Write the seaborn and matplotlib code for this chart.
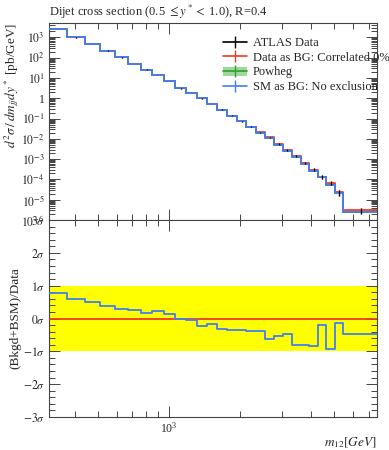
import numpy as np
import pandas as pd
import matplotlib
matplotlib.use("Agg")
import matplotlib.pyplot as plt
import matplotlib.ticker as mticker
from matplotlib.lines import Line2D
from matplotlib.patches import Patch
import seaborn as sns

# dijet mass bin edges [GeV]
edges = [310, 370, 440, 510, 590, 670, 760, 850, 950, 1060, 1180, 1310, 1450,
         1600, 1760, 1940, 2120, 2330, 2550, 2780, 3040, 3310, 3610, 3930,
         4270, 4640, 5040, 5470, 7600]

# ATLAS data, d2sigma/dm dy* [pb/GeV]
data_xs = [2600, 1000, 490, 225, 105, 51, 26, 14, 7.1, 3.1, 1.86, 1.0, 0.52,
           0.28, 0.137, 0.075, 0.040, 0.021, 0.012, 0.0055, 0.0028, 0.0014,
           6.6e-4, 3.1e-4, 1.35e-4, 6.8e-5, 2.3e-5, 3.0e-6]
data_relerr = [0.02, 0.02, 0.02, 0.02, 0.02, 0.02, 0.02, 0.025, 0.025, 0.03,
               0.03, 0.035, 0.04, 0.045, 0.05, 0.055, 0.06, 0.07, 0.08, 0.09,
               0.10, 0.12, 0.15, 0.18, 0.20, 0.25, 0.30, 0.35]

# SM (Powheg) as background
sm_xs = [2640, 1011, 495, 227, 106, 51.4, 26.1, 14.1, 7.12, 3.1, 1.86, 0.99,
         0.516, 0.276, 0.135, 0.0738, 0.039, 0.0204, 0.0114, 0.00524, 0.00267,
         0.00127, 5.8e-4, 2.6e-4, 1.3e-4, 5.2e-5, 2.2e-5, 2.5e-6]
powheg_relerr = 0.03

# (Bkgd+BSM)/Data deviation in units of sigma
sigma_dev = [0.79, 0.58, 0.49, 0.39, 0.28, 0.27, 0.17, 0.22, 0.14, -0.02,
             -0.04, -0.24, -0.18, -0.32, -0.35, -0.35, -0.39, -0.39, -0.63,
             -0.52, -0.46, -0.80, -0.82, -0.85, -0.19, -0.92, -0.14, -0.46]

c_data = "black"
c_red = "#ee3b24"
c_green = "#2ca02c"
c_band = "#9fd89f"
c_blue = "#3f7ff5"

sns.set_theme(style="ticks")
plt.rcParams["font.family"] = ["Liberation Serif", "DejaVu Serif"]
plt.rcParams["mathtext.fontset"] = "stix"
plt.rcParams["axes.edgecolor"] = "#444444"
plt.rcParams["axes.linewidth"] = 0.8


def step_df(vals):
    return pd.DataFrame({"m": edges, "v": list(vals) + [vals[-1]]})


def draw_steps(ax, vals, color, lw=1.3, z=3):
    sns.lineplot(data=step_df(vals), x="m", y="v", drawstyle="steps-post",
                 color=color, lw=lw, ax=ax, zorder=z, estimator=None,
                 sort=False, legend=False)


lo = np.array(edges[:-1], dtype=float)
hi = np.array(edges[1:], dtype=float)
centers = 0.5 * (lo + hi)
data_arr = np.array(data_xs)
data_err = data_arr * np.array(data_relerr)

fig = plt.figure(figsize=(3.89, 4.5), dpi=100)
ax1 = fig.add_axes([0.126, 0.511, 0.843, 0.438])
ax2 = fig.add_axes([0.126, 0.0733, 0.843, 0.4377])

# ---- main panel
ax1.set_xscale("log")
ax1.set_yscale("log")
sm_arr = np.array(sm_xs)
band_lo = list(sm_arr * (1 - powheg_relerr)) + [sm_arr[-1] * (1 - powheg_relerr)]
band_hi = list(sm_arr * (1 + powheg_relerr)) + [sm_arr[-1] * (1 + powheg_relerr)]
ax1.fill_between(edges, band_lo, band_hi, step="post", color=c_band, lw=0, zorder=1)
draw_steps(ax1, sm_xs, c_green, z=2)
ax1.errorbar(centers, data_xs, yerr=data_err, fmt="none", ecolor=c_red,
             elinewidth=1.0, zorder=2)
draw_steps(ax1, data_xs, c_red, z=3)
draw_steps(ax1, sm_xs, c_blue, z=4)
ax1.errorbar(centers, data_xs, yerr=data_err, fmt="none", ecolor=c_data,
             elinewidth=0.9, zorder=5)

ax1.set_xlim(edges[0], edges[-1])
ax1.set_ylim(1e-6, 5.2e3)
ytk = [1e3, 1e2, 1e1, 1, 1e-1, 1e-2, 1e-3, 1e-4, 1e-5, 1e-6]
ylab = ["$10^{3}$", "$10^{2}$", "$10^{1}$", "1", "$10^{-1}$", "$10^{-2}$",
        "$10^{-3}$", "$10^{-4}$", "$10^{-5}$", "$10^{-6}$"]
ax1.set_yticks(ytk, ylab)
ax1.yaxis.set_minor_locator(mticker.LogLocator(base=10, subs=np.arange(2, 10), numticks=20))
ax1.yaxis.set_minor_formatter(mticker.NullFormatter())
ax1.set_xlabel("")
ax1.set_ylabel(r"$d^2\sigma\,/\,dm_{jj}dy^*$ [pb/GeV]", loc="top", fontsize=9.5)
ax1.set_title(r"Dijet cross section (0.5 $\leq y^* <$ 1.0), R=0.4", loc="left",
              fontsize=9, pad=5)

# ---- ratio panel
ax2.set_xscale("log")
ax2.axhspan(-1, 1, color="#ffff00", lw=0, zorder=0)
ax2.axhline(0, color=c_red, lw=1.3, zorder=3)
draw_steps(ax2, sigma_dev, c_blue, z=4)
ax2.set_xlim(edges[0], edges[-1])
ax2.set_ylim(-3, 3)
sig_ticks = [3, 2, 1, 0, -1, -2, -3]
ax2.set_yticks(sig_ticks, [f"${t}\\sigma$" for t in sig_ticks])
ax2.yaxis.set_minor_locator(mticker.MultipleLocator(0.2))
ax2.set_ylabel("(Bkgd+BSM)/Data", fontsize=9.5)
ax2.set_xlabel(r"$m_{12}[GeV]$", loc="right", fontsize=9.5)
ax2.xaxis.set_label_coords(1.0, -0.095)

minor_x = [400, 500, 600, 700, 800, 900, 2000, 3000, 4000, 5000, 6000, 7000]
for ax in (ax1, ax2):
    ax.set_xticks([1000])
    ax.set_xticks(minor_x, minor=True)
    ax.xaxis.set_minor_formatter(mticker.NullFormatter())
    ax.tick_params(which="both", direction="in", top=True, right=True,
                   color="#444444", width=0.7, labelsize=8.5, pad=3)
    ax.tick_params(which="major", length=8)
    ax.tick_params(which="minor", length=4)
    ax.yaxis.set_label_coords(-0.085, 1.0 if ax is ax1 else 0.5)
ax1.tick_params(axis="x", labelbottom=False)

handles = [
    Line2D([0], [0], color=c_data, lw=1.2, marker="|", markersize=9, markeredgewidth=1.0),
    Line2D([0], [0], color=c_red, lw=1.2, marker="|", markersize=9, markeredgewidth=1.0),
    (Patch(color=c_band, lw=0),
     Line2D([0], [0], color=c_green, lw=1.2, marker="|", markersize=9, markeredgewidth=1.0)),
    Line2D([0], [0], color=c_blue, lw=1.2, marker="|", markersize=9, markeredgewidth=1.0),
]
labels = ["ATLAS Data", "Data as BG: Correlated 0%", "Powheg", "SM as BG: No exclusion"]
fig.legend(handles, labels, loc="upper left", bbox_to_anchor=(223 / 389, 1 - 37 / 450),
           frameon=False, fontsize=9, handlelength=1.9, handletextpad=0.5,
           labelspacing=0.22, borderpad=0, borderaxespad=0)

fig.savefig("out.png", dpi=100)
